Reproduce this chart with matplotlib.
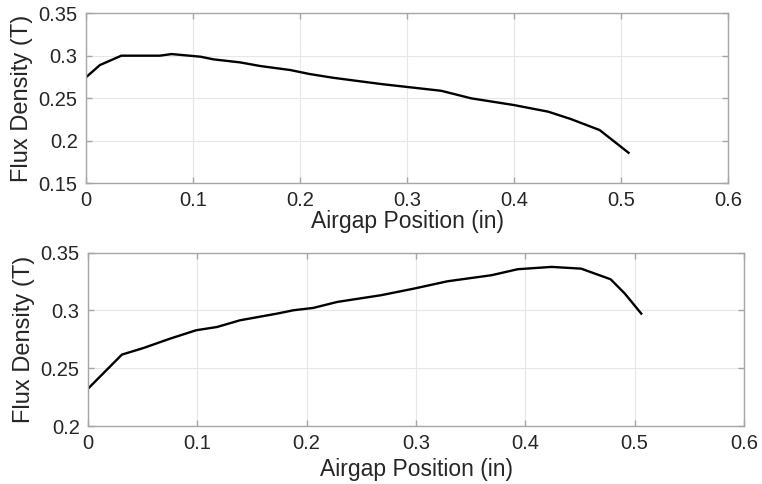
import matplotlib
matplotlib.use("Agg")
import matplotlib.pyplot as plt
import numpy as np

# top trace
pos_top = [0.0, 0.013, 0.033, 0.069, 0.080, 0.107, 0.119, 0.144, 0.163, 0.191,
           0.209, 0.231, 0.276, 0.332, 0.360, 0.400, 0.432, 0.453, 0.480, 0.507]
flux_top = [0.2744, 0.2888, 0.2998, 0.2998, 0.3017, 0.2986, 0.2955, 0.2919, 0.2876, 0.2829,
            0.2782, 0.2738, 0.2664, 0.2585, 0.2496, 0.2417, 0.2339, 0.2253, 0.2123, 0.1856]

# bottom trace
pos_bot = [0.0, 0.031, 0.051, 0.075, 0.099, 0.118, 0.139, 0.173, 0.188, 0.206,
           0.228, 0.268, 0.298, 0.329, 0.369, 0.393, 0.424, 0.451, 0.478, 0.491, 0.506]
flux_bot = [0.2323, 0.2618, 0.2676, 0.2756, 0.2829, 0.2857, 0.2915, 0.2973, 0.3002, 0.3022,
            0.3074, 0.3132, 0.3189, 0.3253, 0.3305, 0.3357, 0.3377, 0.3362, 0.3270, 0.3146, 0.2973]

xticks = [0, 0.1, 0.2, 0.3, 0.4, 0.5, 0.6]
xticklabels = ["0", "0.1", "0.2", "0.3", "0.4", "0.5", "0.6"]
yticks_top = [0.15, 0.2, 0.25, 0.3, 0.35]
yticklabels_top = ["0.15", "0.2", "0.25", "0.3", "0.35"]
yticks_bot = [0.2, 0.25, 0.3, 0.35]
yticklabels_bot = ["0.2", "0.25", "0.3", "0.35"]

plt.rcParams["font.family"] = ["Liberation Sans", "DejaVu Sans"]

fig = plt.figure(figsize=(7.62, 4.84), dpi=100)
ax1 = fig.add_axes([0.1129, 0.6219, 0.8425, 0.3512])
ax2 = fig.add_axes([0.1155, 0.1198, 0.8609, 0.3581])


def style(ax, yticks, yticklabels, ylim, xlabelpad):
    ax.set_xlim(0, 0.6)
    ax.set_ylim(*ylim)
    ax.set_xticks(xticks)
    ax.set_xticklabels(xticklabels)
    ax.set_yticks(yticks)
    ax.set_yticklabels(yticklabels)
    ax.grid(True, color="#e6e6e6", linewidth=0.8)
    ax.set_axisbelow(True)
    for s in ax.spines.values():
        s.set_color("#a6a6a6")
        s.set_linewidth(1.0)
    ax.tick_params(direction="in", length=4.5, width=1.0, color="#a6a6a6",
                   labelsize=14.5, labelcolor="#262626", top=True, right=True, pad=6)
    ax.set_xlabel("Airgap Position (in)", fontsize=16.5, color="#262626", labelpad=xlabelpad)
    ax.set_ylabel("Flux Density (T)", fontsize=17, color="#262626", labelpad=4)


ax1.plot(pos_top, flux_top, color="black", linewidth=1.7)
style(ax1, yticks_top, yticklabels_top, (0.15, 0.35), 0)

ax2.plot(pos_bot, flux_bot, color="black", linewidth=1.7)
style(ax2, yticks_bot, yticklabels_bot, (0.2, 0.35), 3)

ax1.set_zorder(0)
ax2.set_zorder(1)
ax2.patch.set_facecolor("white")

fig.savefig("out.png", dpi=100)
